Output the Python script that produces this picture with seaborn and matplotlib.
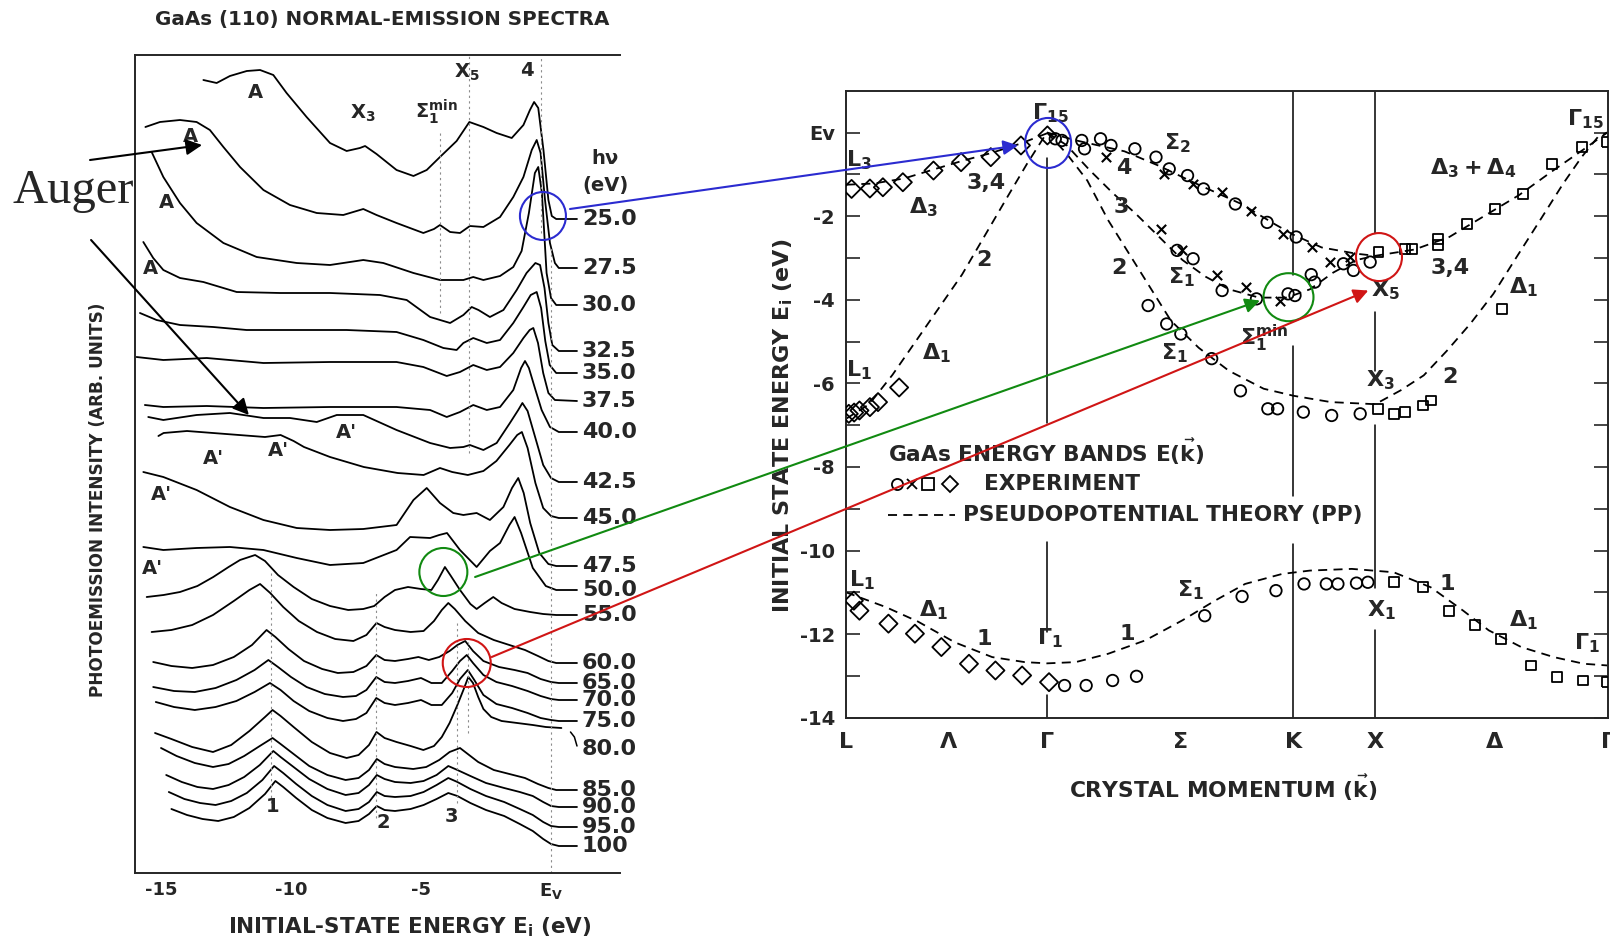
import matplotlib
matplotlib.use("Agg")
import matplotlib.pyplot as plt
import matplotlib.transforms as mtransforms
from matplotlib.patches import Ellipse, ConnectionPatch
import pandas as pd
import seaborn as sns

sns.set_style("white")
plt.rcParams["font.family"] = ["DejaVu Sans"]
plt.rcParams["font.weight"] = "bold"
plt.rcParams["mathtext.fontset"] = "dejavusans"
plt.rcParams["mathtext.default"] = "bf"

# ---------------- left panel: normal-emission spectra (E in eV, intensity arb.) ----------------
s25 = [(-13.37,793),(-12.86,790),(-12.35,797),(-11.7,802),(-11.19,803),(-10.68,798),(-10.17,780),(-9.40,756),
       (-8.50,730),(-7.86,722),(-7.35,725),(-7.15,727),(-6.71,719),(-5.94,703),(-5.29,697),(-4.78,703),(-4.27,716),
       (-3.63,732),(-3.14,751),(-2.60,746),(-2.09,740),(-1.51,735),(-1.06,748),(-0.81,763),(-0.65,771),(-0.49,765),
       (-0.29,723),(-0.10,673),(0.03,657),(0.20,654),(1.0,654)]
s27 = [(-15.60,746),(-15.04,751),(-14.27,753),(-13.63,751),(-13.12,743),(-12.60,726),(-11.96,706),(-11.06,683),
       (-10.04,668),(-9.01,660),(-7.99,658),(-7.22,664),(-6.71,658),(-5.94,650),(-4.91,640),(-4.50,644),(-4.27,648),
       (-3.88,641),(-3.50,640),(-3.12,647),(-2.60,646),(-1.96,656),(-1.45,676),(-1.06,696),(-0.74,723),(-0.55,733),
       (-0.40,720),(-0.23,673),(-0.04,630),(0.15,610),(0.30,605),(1.0,605)]
s30 = [(-15.36,721),(-14.91,696),(-14.27,670),(-13.63,650),(-12.60,630),(-11.32,616),(-9.78,610),(-8.50,608),
       (-7.22,613),(-6.45,610),(-5.29,600),(-4.27,593),(-3.37,593),(-2.99,596),(-2.60,593),(-1.96,597),(-1.45,606),
       (-1.13,622),(-0.85,660),(-0.62,700),(-0.49,706),(-0.35,680),(-0.17,600),(0.00,575),(0.20,568),(1.0,568)]
s32 = [(-15.68,631),(-15.30,615),(-14.91,603),(-14.27,595),(-13.37,591),(-12.09,581),(-10.42,580),(-8.50,580),
       (-6.58,578),(-5.55,573),(-4.65,556),(-3.88,550),(-3.37,558),(-3.05,566),(-2.79,563),(-2.35,556),(-1.83,563),
       (-1.32,583),(-0.94,600),(-0.60,610),(-0.42,608),(-0.25,585),(-0.10,550),(0.05,528),(0.30,522),(1.0,522)]
s35 = [(-15.81,560),(-15.17,553),(-14.27,548),(-12.99,546),(-11.71,543),(-9.78,543),(-7.86,543),(-5.94,541),
       (-4.91,533),(-4.14,525),(-3.63,523),(-3.37,530),(-2.99,535),(-2.47,530),(-1.96,533),(-1.45,550),(-1.06,566),
       (-0.78,578),(-0.55,581),(-0.38,565),(-0.22,532),(-0.05,508),(0.20,500),(1.0,500)]
s37 = [(-15.94,516),(-14.91,513),(-13.24,515),(-11.06,510),(-8.50,511),(-5.94,511),(-4.91,506),(-4.01,497),
       (-3.50,501),(-2.99,508),(-2.47,503),(-1.96,506),(-1.45,520),(-1.06,535),(-0.82,543),(-0.68,545),(-0.50,530),
       (-0.30,500),(-0.10,480),(0.15,473),(1.0,472)]
s40 = [(-15.62,468),(-14.91,466),(-13.24,467),(-11.06,465),(-8.50,466),(-5.94,466),(-4.65,463),(-4.01,456),
       (-3.50,461),(-2.99,468),(-2.47,463),(-1.96,466),(-1.45,483),(-1.15,505),(-1.00,512),(-0.85,505),(-0.62,485),
       (-0.36,463),(-0.04,446),(0.30,441),(1.0,441)]
s42 = [(-15.49,456),(-14.91,453),(-13.63,458),(-12.35,460),(-11.06,455),(-10.04,455),(-9.01,451),(-8.24,458),
       (-7.22,458),(-5.94,443),(-4.65,430),(-3.88,425),(-3.37,426),(-3.12,428),(-2.60,423),(-2.09,430),(-1.58,450),
       (-1.26,463),(-1.10,470),(-0.90,462),(-0.60,435),(-0.30,408),(0.00,395),(0.30,391),(1.0,391)]
s45 = [(-15.10,437),(-14.90,440),(-14.00,442),(-13.00,440),(-12.00,438),(-11.00,436),(-10.40,438),(-9.90,432),
       (-9.50,426),(-8.50,416),(-7.20,406),(-5.90,400),(-4.90,398),(-4.27,405),(-3.80,401),(-3.20,398),(-2.60,402),
       (-2.10,412),(-1.60,428),(-1.30,438),(-1.12,441),(-0.90,425),(-0.60,390),(-0.30,365),(0.00,357),(0.30,355),(1.0,355)]
s47 = [(-15.68,401),(-14.91,396),(-13.63,383),(-12.35,366),(-11.06,353),(-9.78,345),(-8.50,343),(-7.22,344),
       (-5.94,348),(-5.29,373),(-4.78,385),(-4.27,370),(-3.76,360),(-3.37,358),(-2.86,360),(-2.35,353),(-1.83,366),
       (-1.50,385),(-1.26,395),(-1.05,380),(-0.80,350),(-0.45,320),(-0.10,309),(0.20,307),(1.0,307)]
s50 = [(-15.68,326),(-14.91,323),(-13.63,325),(-12.35,326),(-11.06,323),(-9.78,315),(-8.50,308),(-7.22,310),
       (-5.94,323),(-5.42,336),(-4.65,335),(-4.30,338),(-4.00,340),(-3.50,323),(-2.86,306),(-2.35,322),(-1.96,330),
       (-1.60,348),(-1.40,356),(-1.15,340),(-0.70,305),(-0.20,287),(0.20,283),(1.0,283)]
s55 = [(-15.55,276),(-14.9,278),(-14.27,281),(-13.6,287),(-12.99,296),(-12.4,306),(-11.96,313),(-11.38,318),
       (-11.0,312),(-10.5,298),(-9.9,286),(-9.2,274),(-8.5,267),(-7.8,263),(-7.22,264),(-6.8,267),(-6.4,276),
       (-6.0,283),(-5.5,286),(-5.0,284),(-4.6,283),(-4.35,293),(-4.08,306),(-3.85,297),(-3.5,283),(-3.1,269),
       (-2.86,264),(-2.55,270),(-2.22,276),(-1.9,270),(-1.4,264),(-0.8,261),(-0.3,259),(0.2,258),(1.0,258)]
s60 = [(-15.36,241),(-14.6,243),(-13.8,248),(-13.0,258),(-12.2,272),(-11.6,283),(-11.19,289),(-10.8,280),
       (-10.3,266),(-9.7,252),(-9.0,241),(-8.3,234),(-7.6,232),(-7.1,238),(-6.71,250),(-6.4,246),(-6.0,243),
       (-5.4,241),(-4.9,242),(-4.5,252),(-4.2,263),(-3.95,270),(-3.7,264),(-3.3,252),(-2.8,240),(-2.2,233),
       (-1.6,228),(-1.0,223),(-0.5,217),(-0.1,212),(0.2,210),(1.0,210)]
s65 = [(-15.30,211),(-14.6,207),(-13.8,205),(-13.0,208),(-12.2,216),(-11.5,228),(-10.94,243),(-10.6,236),
       (-10.1,224),(-9.5,212),(-8.8,204),(-8.2,200),(-7.6,201),(-7.1,207),(-6.72,218),(-6.4,213),(-6.0,212),
       (-5.5,214),(-5.1,216),(-4.7,213),(-4.3,216),(-3.9,222),(-3.6,228),(-3.3,232),(-3.0,222),(-2.6,212),
       (-2.0,206),(-1.4,203),(-0.9,200),(-0.4,194),(0.0,191),(0.3,190),(1.0,190)]
s70 = [(-15.30,186),(-14.5,182),(-13.7,181),(-12.9,185),(-12.1,193),(-11.4,203),(-10.87,213),(-10.5,206),
       (-10.0,196),(-9.4,186),(-8.7,179),(-8.0,176),(-7.5,177),(-7.1,183),(-6.72,196),(-6.4,191),(-6.0,190),
       (-5.5,192),(-5.0,195),(-4.6,190),(-4.2,190),(-3.8,202),(-3.5,212),(-3.24,218),(-3.0,210),(-2.6,198),
       (-2.1,191),(-1.5,187),(-0.9,182),(-0.4,177),(0.0,174),(0.3,173),(1.0,173)]
s75 = [(-15.20,171),(-14.5,166),(-13.7,163),(-12.9,166),(-12.1,172),(-11.4,181),(-10.81,190),(-10.4,183),
       (-9.9,172),(-9.3,162),(-8.6,155),(-8.0,152),(-7.5,154),(-7.1,160),(-6.72,175),(-6.4,170),(-6.0,168),
       (-5.5,170),(-5.0,173),(-4.6,168),(-4.2,168),(-3.8,180),(-3.5,194),(-3.2,203),(-2.95,193),(-2.6,178),
       (-2.1,169),(-1.5,165),(-0.9,160),(-0.4,155),(0.0,153),(0.3,152),(1.0,152)]
s80 = [(-15.23,140),(-14.6,134),(-13.8,126),(-13.0,121),(-12.3,128),(-11.6,142),(-11.0,156),(-10.71,163),
       (-10.4,157),(-9.9,146),(-9.2,131),(-8.5,120),(-7.86,115),(-7.4,118),(-7.0,128),(-6.71,141),(-6.4,135),
       (-5.94,131),(-5.4,127),(-4.91,123),(-4.5,127),(-4.2,136),(-3.9,150),(-3.6,168),(-3.37,183),(-3.18,196),
       (-3.0,190),(-2.8,176),(-2.6,164),(-2.3,156),(-1.9,152),(-1.3,150),(-0.7,148),(-0.2,146),(0.4,145)]
s85 = [(-15.00,125),(-14.4,117),(-13.7,110),(-13.0,106),(-12.4,109),(-11.8,117),(-11.2,127),(-10.71,135),
       (-10.4,129),(-9.9,119),(-9.3,107),(-8.6,98),(-7.9,93),(-7.4,95),(-7.0,103),(-6.7,114),(-6.4,109),
       (-6.0,106),(-5.3,104),(-4.8,106),(-4.3,113),(-3.9,121),(-3.5,125),(-3.2,119),(-2.8,111),(-2.2,103),
       (-1.6,99),(-1.0,95),(-0.5,89),(-0.1,85),(0.2,83),(1.0,83)]
s90 = [(-14.80,98),(-14.2,91),(-13.6,86),(-13.0,84),(-12.4,88),(-11.8,96),(-11.2,108),(-10.68,122),(-10.4,116),
       (-9.9,106),(-9.3,94),(-8.6,84),(-7.9,78),(-7.4,80),(-7.0,88),(-6.7,98),(-6.4,94),(-6.0,91),(-5.4,90),
       (-4.9,92),(-4.4,98),(-3.95,107),(-3.6,103),(-3.1,97),(-2.5,90),(-1.8,85),(-1.2,81),(-0.7,77),(-0.3,71),
       (0.0,67),(0.3,66),(1.0,66)]
s95 = [(-14.70,81),(-14.1,74),(-13.5,70),(-12.9,68),(-12.3,72),(-11.7,80),(-11.1,93),(-10.65,107),(-10.3,100),
       (-9.8,89),(-9.2,77),(-8.6,68),(-7.9,62),(-7.4,64),(-7.0,71),(-6.7,81),(-6.4,77),(-6.0,76),(-5.4,77),
       (-4.9,81),(-4.4,88),(-3.95,95),(-3.6,91),(-3.1,84),(-2.5,77),(-1.8,71),(-1.2,64),(-0.7,58),(-0.3,51),
       (0.0,47),(0.3,46),(1.0,46)]
s100 = [(-14.60,64),(-14.0,58),(-13.4,54),(-12.8,52),(-12.2,56),(-11.6,65),(-11.0,79),(-10.60,92),(-10.3,86),
        (-9.8,75),(-9.2,63),(-8.6,55),(-7.9,50),(-7.4,52),(-7.0,59),(-6.7,67),(-6.4,63),(-6.0,62),(-5.4,64),
        (-4.9,68),(-4.4,74),(-3.95,80),(-3.6,77),(-3.1,70),(-2.5,63),(-1.8,57),(-1.2,49),(-0.7,42),(-0.3,34),
        (0.0,29),(0.3,27),(1.0,27)]

hv_labels = ["25.0","27.5","30.0","32.5","35.0","37.5","40.0","42.5","45.0","47.5","50.0","55.0",
             "60.0","65.0","70.0","75.0","80.0","85.0","90.0","95.0","100"]
hv_label_I = [654,605,568,522,500,472,441,391,355,307,283,258,210,190,173,152,124,83,66,46,27]

# feature labels on the spectra (E, intensity, text)
peak_E = [-11.38,-13.88,-14.78,-15.42,-7.86,-10.5,-13.0,-14.97,-15.31,-7.23,-4.40,-3.24,-0.93,-10.69,-6.46,-3.82]
peak_I = [781,736,670,605,441,423,415,378,305,760,761,801,803,66,50,56]
peak_txt = ["A","A","A","A","A'","A'","A'","A'","A'",r"X$_3$",r"$\Sigma_1^{\rm min}$",r"X$_5$","4","1","2","3"]

# faint guide lines: E, lower, upper intensity
guide_E = [0.0, -0.4, -3.14, -4.25, -10.75, -6.72, -3.6, -3.2]
guide_lo = [0, 640, 420, 560, 70, 55, 70, 140]
guide_hi = [625, 818, 818, 740, 300, 280, 250, 235]

# ---------------- right panel: GaAs bands, k along L-G-K-X-G ----------------
k_ticks = [0.0, 0.44, 0.866, 1.44, 1.927, 2.281, 2.796, 3.281]
k_names = ["L", r"$\Lambda$", r"$\Gamma$", r"$\Sigma$", "K", "X", r"$\Delta$", r"$\Gamma$"]

diamonds = [(0.024,-1.35),(0.103,-1.34),(0.159,-1.31),(0.245,-1.19),(0.377,-0.91),(0.496,-0.71),(0.624,-0.59),
            (0.754,-0.31),(0.868,-0.07),
            (0.012,-6.73),(0.035,-6.70),(0.058,-6.65),(0.103,-6.57),(0.138,-6.45),(0.229,-6.10),
            (0.034,-11.20),(0.058,-11.44),(0.183,-11.75),(0.297,-11.99),(0.411,-12.31),(0.530,-12.71),
            (0.644,-12.87),(0.759,-12.99),(0.875,-13.15)]
circles = [(0.902,-0.15),(0.931,-0.19),(1.016,-0.19),(1.028,-0.39),(1.097,-0.15),(1.142,-0.31),(1.245,-0.39),
           (1.336,-0.59),(1.393,-0.87),(1.472,-1.03),(1.541,-1.35),(1.678,-1.71),(1.815,-2.15),(1.940,-2.50),
           (2.005,-3.40),(2.02,-3.58),(2.144,-3.14),(2.187,-3.30),(2.259,-3.10),
           (1.427,-2.82),(1.496,-3.02),(1.621,-3.78),(1.769,-3.98),(1.905,-3.86),(1.935,-3.90),
           (1.302,-4.14),(1.382,-4.58),(1.443,-4.82),(1.576,-5.41),(1.70,-6.18),(1.818,-6.61),(1.860,-6.61),
           (1.971,-6.69),(2.093,-6.77),(2.216,-6.73),
           (0.942,-13.23),(1.035,-13.23),(1.149,-13.11),(1.252,-13.01),(1.546,-11.56),(1.707,-11.10),
           (1.853,-10.96),(1.974,-10.80),(2.07,-10.80),(2.12,-10.80),(2.20,-10.78),(2.249,-10.76)]
crosses = [(1.119,-0.59),(1.370,-0.99),(1.496,-1.23),(1.621,-1.43),(1.746,-1.87),(1.884,-2.42),(2.009,-2.74),
           (2.086,-3.10),(2.172,-2.98),
           (1.358,-2.30),(1.450,-2.82),(1.598,-3.42),(1.724,-3.70),(1.870,-4.02)]
squares = [(2.295,-2.86),(2.41,-2.78),(2.44,-2.78),(2.553,-2.55),(2.553,-2.70),(2.675,-2.18),(2.797,-1.83),
           (2.919,-1.47),(3.042,-0.75),(3.171,-0.35),(3.279,-0.23),(2.827,-4.22),
           (2.293,-6.61),(2.362,-6.73),(2.409,-6.69),(2.487,-6.53),(2.522,-6.41),
           (2.362,-10.76),(2.488,-10.88),(2.597,-11.44),(2.711,-11.79),(2.823,-12.11),(2.951,-12.75),
           (3.063,-13.03),(3.177,-13.11),(3.280,-13.15)]

# pseudopotential bands (dashed)
pp_lam3 = [(0.0,-1.25),(0.12,-1.22),(0.25,-1.1),(0.38,-0.88),(0.5,-0.68),(0.62,-0.5),(0.75,-0.27),(0.866,-0.02)]
pp_lam1 = [(0.0,-6.85),(0.1,-6.5),(0.2,-5.8),(0.3,-5.0),(0.4,-4.2),(0.5,-3.4),(0.6,-2.45),(0.7,-1.5),
           (0.78,-0.75),(0.866,0.0)]
pp_band4 = [(0.866,0.0),(1.0,-0.2),(1.2,-0.45),(1.35,-0.8),(1.5,-1.2),(1.7,-1.7),(1.85,-2.2),(1.93,-2.45),
            (2.05,-2.75),(2.2,-2.9),(2.281,-2.95),(2.45,-2.8),(2.6,-2.5),(2.75,-2.0),(2.9,-1.5),(3.05,-0.9),
            (3.18,-0.4),(3.281,0.0)]
pp_band3 = [(0.866,0.0),(0.95,-0.3),(1.05,-0.9),(1.15,-1.45),(1.25,-1.95),(1.35,-2.5),(1.45,-3.05),(1.55,-3.45),
            (1.65,-3.75),(1.78,-3.95),(1.9,-3.95),(2.0,-3.75),(2.1,-3.35),(2.2,-3.05),(2.281,-2.95)]
pp_band2 = [(0.866,0.0),(0.95,-0.5),(1.04,-1.15),(1.13,-2.1),(1.22,-2.9),(1.31,-3.7),(1.40,-4.5),(1.52,-5.15),
            (1.65,-5.7),(1.8,-6.13),(1.93,-6.3),(2.09,-6.45),(2.281,-6.5),(2.39,-6.17),(2.49,-5.81),(2.59,-5.22),
            (2.69,-4.58),(2.79,-3.86),(2.89,-2.98),(2.99,-2.11),(3.09,-1.23),(3.17,-0.59),(3.24,-0.11),(3.281,0.0)]
pp_band1 = [(0.0,-11.0),(0.17,-11.35),(0.31,-11.7),(0.47,-12.2),(0.63,-12.55),(0.77,-12.67),(0.866,-12.7),
            (0.99,-12.67),(1.13,-12.47),(1.29,-12.15),(1.45,-11.67),(1.59,-11.2),(1.72,-10.8),(1.88,-10.56),
            (2.0,-10.48),(2.18,-10.44),(2.36,-10.52),(2.52,-10.88),(2.66,-11.44),(2.77,-11.91),(2.91,-12.31),
            (3.05,-12.55),(3.18,-12.71),(3.281,-12.75)]

# band labels (k, E, text)
band_lab = [(0.879,0.45,r"$\Gamma_{15}$"),(0.056,-0.67,r"L$_3$"),(0.332,-1.79,r"$\Delta_3$"),(0.606,-1.22,"3,4"),
            (1.198,-0.86,"4"),(1.427,-0.26,r"$\Sigma_2$"),(1.188,-1.79,"3"),(0.594,-3.06,"2"),(1.176,-3.23,"2"),
            (1.448,-3.47,r"$\Sigma_1$"),(1.802,-4.93,r"$\Sigma_1^{\rm min}$"),(1.414,-5.29,r"$\Sigma_1$"),
            (0.056,-5.69,r"L$_1$"),(0.388,-5.29,r"$\Delta_1$"),(2.323,-3.78,r"X$_5$"),(2.603,-3.25,"3,4"),
            (2.703,-0.86,r"$\Delta_3+\Delta_4$"),(2.918,-3.71,r"$\Delta_1$"),(3.185,0.33,r"$\Gamma_{15}$"),
            (2.302,-5.93,r"X$_3$"),(2.603,-5.86,"2"),(0.069,-10.72,r"L$_1$"),(0.377,-11.44,r"$\Delta_1$"),
            (0.595,-12.11,"1"),(0.879,-12.11,r"$\Gamma_1$"),(1.21,-11.99,"1"),(1.483,-10.96,r"$\Sigma_1$"),
            (2.591,-10.79,"1"),(2.306,-11.44,r"X$_1$"),(2.922,-11.67,r"$\Delta_1$"),(3.194,-12.22,r"$\Gamma_1$")]

# symmetry lines drawn in pieces (k, E_top, E_bottom)
sym_lines = [(0.866,-0.6,-6.95),(0.866,-9.8,-11.95),(0.866,-13.45,-14.0),
             (1.927,1.0,-3.4),(1.927,-5.1,-8.7),(1.927,-9.85,-14.0),
             (2.281,1.0,-2.4),(2.281,-4.3,-5.7),(2.281,-7.0,-10.9),(2.281,-11.9,-14.0)]

# ---------------- figure ----------------
fig = plt.figure(figsize=(16.1, 9.44), dpi=100)
ax_l = fig.add_axes([135/1610, 1-873/944, 485/1610, 818/944])
ax_r = fig.add_axes([846/1610, 1-717.7/944, 762/1610, 627/944])

# left panel
for s in [s25,s27,s30,s32,s35,s37,s40,s42,s45,s47,s50,s55,s60,s65,s70,s75,s80,s85,s90,s95,s100]:
    d = pd.DataFrame(s, columns=["E", "I"])
    sns.lineplot(data=d, x="E", y="I", sort=False, estimator=None, color="black", lw=1.3, ax=ax_l)
ax_l.plot([0.75, 0.9, 1.0], [141, 136, 127], color="black", lw=1.1)

for e, lo, hi in zip(guide_E, guide_lo, guide_hi):
    ax_l.plot([e, e], [lo, hi], color="0.55", lw=0.8, ls=(0, (2, 3)))

for lab, y in zip(hv_labels, hv_label_I):
    ax_l.text(1.19, y, lab, fontsize=16, ha="left", va="center", clip_on=False)
ax_l.text(2.1, 714, r"h$\nu$", fontsize=14, ha="center", va="center")
ax_l.text(2.1, 688, "(eV)", fontsize=14, ha="center", va="center", clip_on=False)
for e, y, t in zip(peak_E, peak_I, peak_txt):
    ax_l.text(e, y, t, fontsize=14, ha="center", va="center")

ax_l.set_xlim(-16.0, 2.654)
ax_l.set_ylim(0, 818)
ax_l.spines["right"].set_visible(False)
for sp in ["left", "bottom", "top"]:
    ax_l.spines[sp].set_linewidth(1.4)
ax_l.set_yticks([])
ax_l.set_xticks([-15, -10, -5, 0])
ax_l.set_xticklabels(["-15", "-10", "-5", r"E$_{\rm V}$"], fontsize=13)
ax_l.set_xticks(range(-15, 1), minor=True)
ax_l.tick_params(axis="x", which="major", direction="in", length=10, width=1.3, pad=6)
ax_l.tick_params(axis="x", which="minor", direction="in", length=7, width=1.1)
ax_l.set_xlabel("")
ax_l.set_ylabel("")
ax_l.text(0.567, -0.066, r"INITIAL-STATE ENERGY E$_{\rm i}$ (eV)", transform=ax_l.transAxes,
          fontsize=15.5, ha="center", va="center")
ax_l.text(-0.077, 0.456, "PHOTOEMISSION INTENSITY (ARB. UNITS)", transform=ax_l.transAxes,
          fontsize=12.2, rotation=90, ha="center", va="center")
ax_l.text(0.509, 1.043, "GaAs (110) NORMAL-EMISSION SPECTRA", transform=ax_l.transAxes,
          fontsize=14.3, ha="center", va="center")

# Auger arrows
ax_l.text(-20.73, 670, "Auger", fontsize=35, fontweight="normal", family=["Liberation Serif", "DejaVu Serif"],
          ha="left", va="baseline", clip_on=False)
for start, tip in [((-17.73, 713), (-13.42, 728)), ((-17.69, 633), (-11.62, 458))]:
    ax_l.annotate("", xy=tip, xytext=start, annotation_clip=False,
                  arrowprops=dict(arrowstyle="-|>", color="black", lw=1.5, mutation_scale=24,
                                  shrinkA=0, shrinkB=0))

# right panel
dash = (0, (5, 3.5))
for band in [pp_lam3, pp_lam1, pp_band4, pp_band3, pp_band2, pp_band1]:
    d = pd.DataFrame(band, columns=["k", "E"])
    sns.lineplot(data=d, x="k", y="E", sort=False, estimator=None, color="black", lw=1.3,
                 linestyle=dash, ax=ax_r)

for k, top, bot in sym_lines:
    ax_r.plot([k, k], [top, bot], color="black", lw=1.1)

cd = pd.DataFrame(circles, columns=["k", "E"])
sns.scatterplot(data=cd, x="k", y="E", marker="o", s=68, fc="none", ec="black", linewidth=1.3, ax=ax_r, zorder=3)
sd = pd.DataFrame(squares, columns=["k", "E"])
sns.scatterplot(data=sd, x="k", y="E", marker="s", s=50, fc="none", ec="black", linewidth=1.3, ax=ax_r, zorder=3)
dd = pd.DataFrame(diamonds, columns=["k", "E"])
sns.scatterplot(data=dd, x="k", y="E", marker="D", s=85, fc="none", ec="black", linewidth=1.3, ax=ax_r, zorder=3)
xd = pd.DataFrame(crosses, columns=["k", "E"])
sns.scatterplot(data=xd, x="k", y="E", marker="x", s=45, color="black", linewidth=1.5, ax=ax_r, zorder=3)

for k, e, t in band_lab:
    ax_r.text(k, e, t, fontsize=16, ha="center", va="center", clip_on=False)

# legend block
ax_r.text(0.183, -7.65, r"GaAs ENERGY BANDS E($\vec{\rm k}$)", fontsize=15.6, ha="left", va="center")
for kx, m in zip([0.22, 0.284, 0.353, 0.448], ["o", "x", "s", "D"]):
    ax_r.plot([kx], [-8.40], marker=m, ms=8 if m != "x" else 7, mfc="none", mec="black", mew=1.3)
ax_r.text(0.595, -8.40, "EXPERIMENT", fontsize=15.6, ha="left", va="center")
ax_r.plot([0.183, 0.47], [-9.16, -9.16], color="black", lw=1.3, linestyle=dash)
ax_r.text(0.503, -9.16, "PSEUDOPOTENTIAL THEORY (PP)", fontsize=15.6, ha="left", va="center")

ax_r.set_xlim(0, 3.284)
ax_r.set_ylim(-14, 1.0)
for sp in ax_r.spines.values():
    sp.set_linewidth(1.4)
ax_r.set_xticks(k_ticks)
ax_r.set_xticklabels(k_names, fontsize=16)
ax_r.tick_params(axis="x", length=0, pad=10)
ax_r.set_yticks([0, -2, -4, -6, -8, -10, -12, -14])
ax_r.set_yticklabels(["Ev", "-2", "-4", "-6", "-8", "-10", "-12", "-14"], fontsize=14)
ax_r.set_yticks(range(-13, 1, 2), minor=True)
ax_r.tick_params(axis="y", which="both", direction="in", length=10, width=1.2, left=True, right=True, pad=8)
ax_r.set_xlabel("")
ax_r.set_ylabel("")
ax_r.text(-0.082, 0.465, r"INITIAL STATE ENERGY E$_{\rm i}$ (eV)", transform=ax_r.transAxes,
          fontsize=16, rotation=90, ha="center", va="center")
ax_r.text(0.495, -0.112, r"CRYSTAL MOMENTUM ($\vec{\rm k}$)", transform=ax_r.transAxes,
          fontsize=15.7, ha="center", va="center")


# coloured rings and connecting arrows
def ring(ax, x, y, rx, ry, color):
    tr = fig.dpi_scale_trans + mtransforms.ScaledTranslation(x, y, ax.transData)
    fig.add_artist(Ellipse((0, 0), 2 * rx / fig.dpi, 2 * ry / fig.dpi, transform=tr,
                           fill=False, ec=color, lw=1.5))


blue, green, red = "#2b2bd0", "#118a11", "#d01515"
ring(ax_l, -0.31, 657, 23, 24, blue)
ring(ax_r, 0.871, -0.25, 23, 25, blue)
ring(ax_l, -4.14, 301, 24, 24, green)
ring(ax_r, 1.907, -3.94, 25, 24, green)
ring(ax_l, -3.24, 210, 24, 24, red)
ring(ax_r, 2.297, -2.98, 23, 24, red)

for a, b, c in [((0.73, 664), (0.741, -0.31), blue), ((-2.92, 296), (1.784, -4.02), green),
                ((-2.28, 216), (2.251, -3.78), red)]:
    fig.add_artist(ConnectionPatch(xyA=a, coordsA=ax_l.transData, xyB=b, coordsB=ax_r.transData,
                                   arrowstyle="-|>", color=c, lw=1.5, mutation_scale=22))

fig.savefig("out.png", dpi=100)
